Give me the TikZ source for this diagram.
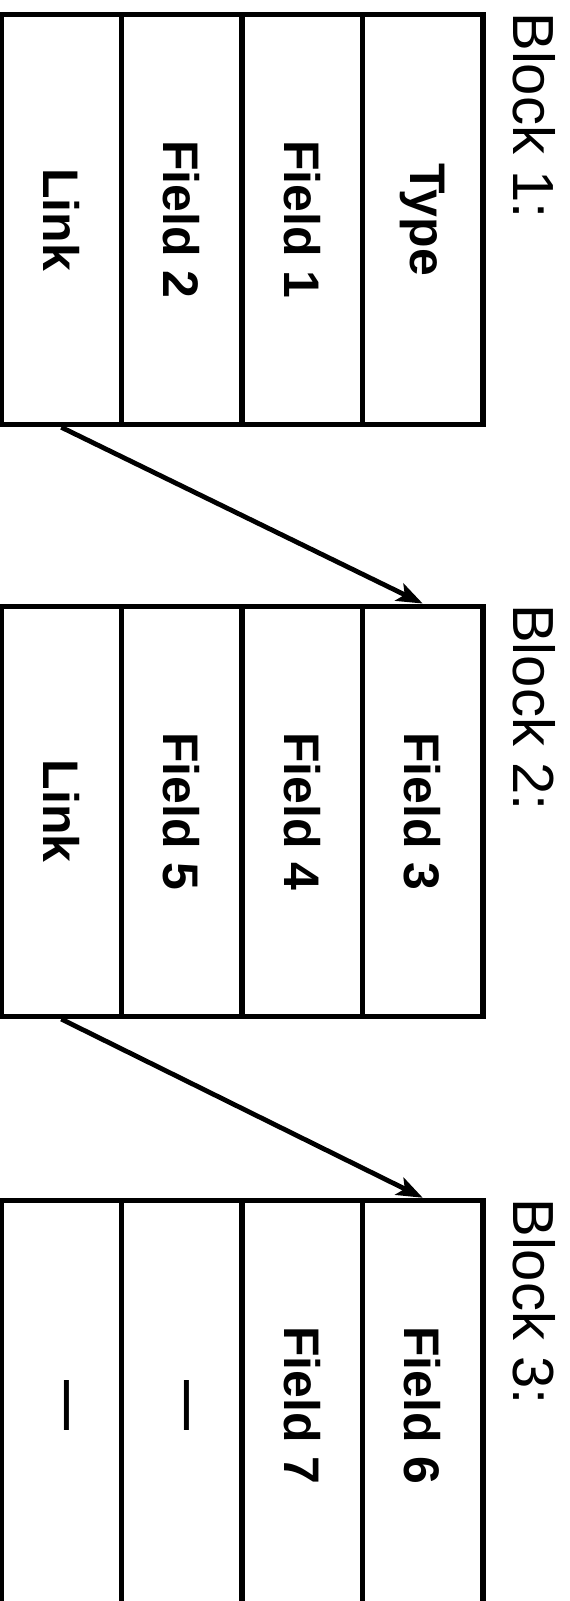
\documentclass[tikz,border=0pt]{standalone}
\usepackage{fontspec}
\setmainfont{Liberation Sans}
\usetikzlibrary{arrows.meta}

\begin{document}
\begin{tikzpicture}[x=0.5pt, y=-0.5pt,
    cell/.style={draw, line width=2.75pt, rotate=-90, inner sep=0pt,
      minimum width=205pt, minimum height=60.25pt,
      font=\bfseries\fontsize{25}{30}\selectfont},
    blocklabel/.style={rotate=-90, anchor=base west, inner sep=0pt,
      font=\fontsize{29}{34}\selectfont},
    pointer/.style={-{Stealth[length=13pt, width=9.5pt, inset=3pt]},
      line width=2.4pt}]
  \useasboundingbox (0,0) rectangle (569,1601);
  % blocks, cells from type side to link side
  \foreach \b/\y/\ta/\tb/\tc/\td in {1/219.5/Type/Field 1/Field 2/Link,
      2/811.3/Field 3/Field 4/Field 5/Link,
      3/1405.5/Field 6/Field 7/\textemdash/\textemdash} {
    \node[cell] (b\b c1) at (422.75,\y) {\ta};
    \node[cell] (b\b c2) at (302.25,\y) {\tb};
    \node[cell] (b\b c3) at (181.75,\y) {\tc};
    \node[cell] (b\b c4) at (61.25,\y) {\td};
    \node[blocklabel] (lbl\b) at (513,{\y-207.5}) {Block \b:};
  }
  % links
  \draw[pointer] (b1c4.east) -- (b2c1.west);
  \draw[pointer] (b2c4.east) -- (b3c1.west);
\end{tikzpicture}
\end{document}
